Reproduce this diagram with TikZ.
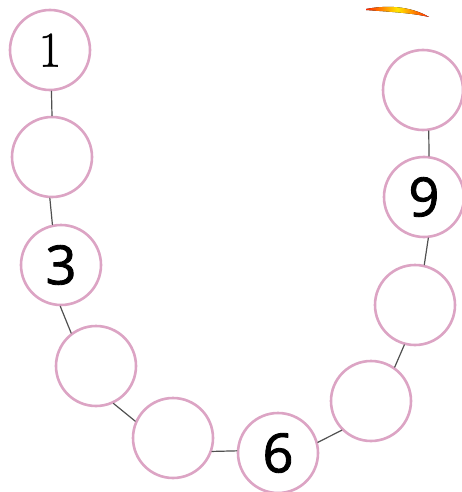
\documentclass[tikz,border=0pt]{standalone}
\usepackage{fontspec}
\newfontfamily\digitfont[FakeBold=1.6]{Open Sans}
\newfontfamily\onefont[FakeBold=1]{Latin Modern Roman}
\definecolor{beadpink}{RGB}{220,164,196}
\definecolor{wiregray}{RGB}{80,80,80}
\begin{document}
\begin{tikzpicture}[line cap=round,line join=round,x=1pt,y=-1pt,
    bead/.style={circle,draw=beadpink,line width=2.6pt,fill=white,minimum size=80pt,inner sep=0pt,
      font=\digitfont\fontsize{54}{60}\selectfont},
    wire/.style={draw=wiregray,line width=1.2pt}]
  \useasboundingbox (0,0) rectangle (462,492);
  % Vệt màu ở góc trên
  \fill[left color=red!70!orange,right color=red!70!orange,middle color=yellow!80!orange]
    (366,9) .. controls (392,4) and (414,8) .. (429,17) .. controls (412,13) and (392,12) .. (366,10) -- cycle;
  % Các hạt
  \node[bead,font=\onefont\fontsize{50}{60}\selectfont] (c1) at (50,50) {1};
  \node[bead] (c2) at (52,157) {};
  \node[bead] (c3) at (61,265) {3};
  \node[bead] (c4) at (96,366) {};
  \node[bead] (c5) at (173,438) {};
  \node[bead] (c6) at (278,453) {6};
  \node[bead] (c7) at (371,401) {};
  \node[bead] (c8) at (415,305) {};
  \node[bead] (c9) at (424,197) {9};
  \node[bead] (c10) at (423,90) {};
  % Sợi dây nối
  \draw[wire] (c1.-88) -- (c2.90);
  \draw[wire] (c2.-93) -- (c3.102);
  \draw[wire] (c3.-91) -- (c4.127);
  \draw[wire] (c4.-65) -- (c5.156);
  \draw[wire] (c5.-19) -- (c6.177);
  \draw[wire] (c6.15) -- (c7.-135);
  \draw[wire] (c7.55) -- (c8.-105);
  \draw[wire] (c8.77) -- (c9.-84);
  \draw[wire] (c9.83) -- (c10.-82);
\end{tikzpicture}
\end{document}
